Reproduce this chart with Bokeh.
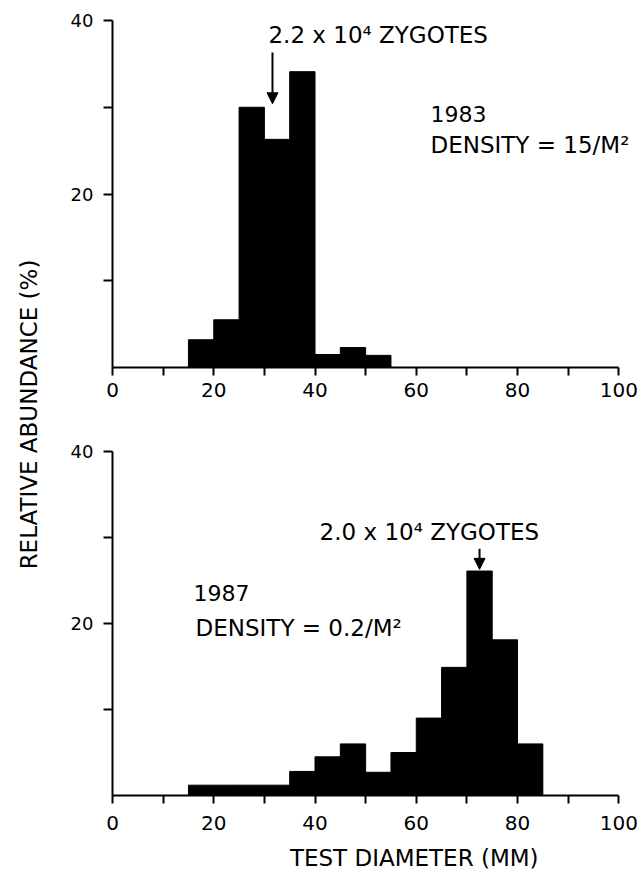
import math
from bokeh.plotting import figure
from bokeh.models import (Range1d, FixedTicker, Label, Arrow, NormalHead)
from bokeh.layouts import row, column
from bokeh.embed import file_html
from bokeh.resources import INLINE

# ---------------- data ----------------
bin_width = 5
bins_1983 = [15, 20, 25, 30, 35, 40, 45, 50]
abund_1983 = [3.2, 5.5, 30.0, 26.3, 34.1, 1.5, 2.3, 1.4]

bins_1987 = [15, 20, 25, 30, 35, 40, 45, 50, 55, 60, 65, 70, 75, 80]
abund_1987 = [1.2, 1.2, 1.2, 1.2, 2.8, 4.5, 6.0, 2.7, 5.0, 9.0, 14.9, 26.1, 18.1, 6.0]

x_major_ticks = [0, 20, 40, 60, 80, 100]
x_minor_ticks = [10, 30, 50, 70, 90]
y_major_ticks = [20, 40]
y_minor_ticks = [10, 30]

FONT = "DejaVu Sans"
MAIN_W = 596
X_END = 103.5   # frame extends a bit past 100 so right-hand texts fit


def make_panel(height, top, bottom, bins, vals, x_standoff):
    p = figure(width=MAIN_W, height=height, output_backend="svg",
               toolbar_location=None,
               x_range=Range1d(0, X_END), y_range=Range1d(0, 40),
               min_border_left=64, min_border_right=8,
               min_border_top=top, min_border_bottom=bottom)
    p.outline_line_color = None
    p.grid.visible = False
    p.background_fill_color = "white"
    p.border_fill_color = "white"

    p.quad(left=bins, right=[b + bin_width for b in bins], bottom=0, top=vals,
           fill_color="black", line_color="black", line_width=1)

    xa = p.xaxis[0]
    xa.bounds = (0, 100)
    xa.ticker = FixedTicker(ticks=x_major_ticks, minor_ticks=x_minor_ticks)
    xa.axis_line_width = 2
    xa.major_tick_line_width = 2
    xa.minor_tick_line_width = 2
    xa.major_tick_in = 0
    xa.major_tick_out = 8
    xa.minor_tick_in = 0
    xa.minor_tick_out = 8
    xa.major_label_text_font = FONT
    xa.major_label_text_font_size = "20px"
    xa.major_label_text_color = "black"
    xa.major_label_standoff = x_standoff

    ya = p.yaxis[0]
    ya.ticker = FixedTicker(ticks=y_major_ticks, minor_ticks=y_minor_ticks)
    ya.axis_line_width = 2
    ya.major_tick_line_width = 2
    ya.minor_tick_line_width = 2
    ya.major_tick_in = 0
    ya.major_tick_out = 9
    ya.minor_tick_in = 0
    ya.minor_tick_out = 9
    ya.major_label_text_font = FONT
    ya.major_label_text_font_size = "18px"
    ya.major_label_text_color = "black"
    ya.major_label_standoff = 10
    ya.major_label_orientation = "horizontal"
    return p


def add_label(p, x, y, text, size="22px"):
    p.add_layout(Label(x=x, y=y, text=text, text_font=FONT, text_font_size=size,
                       text_color="black", text_align="left",
                       text_baseline="middle"))


# ---------------- top panel (1983) ----------------
p1 = make_panel(420, 20, 53, bins_1983, abund_1983, 7)
add_label(p1, 30.8, 38.3, "2.2 x 10\u2074 ZYGOTES", "23px")
add_label(p1, 62.8, 29.2, "1983")
add_label(p1, 62.8, 25.6, "DENSITY = 15/M\u00b2", "23px")
p1.add_layout(Arrow(end=NormalHead(size=11, fill_color="black", line_color="black"),
                    x_start=31.6, y_start=36.3, x_end=31.6, y_end=30.4,
                    line_width=2, line_color="black"))

# ---------------- bottom panel (1987) ----------------
p2 = make_panel(416, 31, 41, bins_1987, abund_1987, 12)
add_label(p2, 40.9, 30.6, "2.0 x 10\u2074 ZYGOTES", "23px")
add_label(p2, 16.0, 23.6, "1987")
add_label(p2, 16.4, 19.5, "DENSITY = 0.2/M\u00b2", "23px")
p2.add_layout(Arrow(end=NormalHead(size=11, fill_color="black", line_color="black"),
                    x_start=72.5, y_start=28.7, x_end=72.5, y_end=26.3,
                    line_width=2, line_color="black"))

# ---------------- x-axis title strip ----------------
pt = figure(width=MAIN_W, height=36, output_backend="svg", toolbar_location=None,
            x_range=Range1d(0, X_END), y_range=Range1d(0, 1),
            min_border_left=64, min_border_right=8,
            min_border_top=0, min_border_bottom=0)
pt.axis.visible = False
pt.grid.visible = False
pt.outline_line_color = None
pt.add_layout(Label(x=59.6, y=(36 - 21) / 36, text="TEST DIAMETER (MM)",
                    text_font=FONT, text_font_size="23px", text_color="black",
                    text_align="center", text_baseline="middle"))

# ---------------- shared y-axis title ----------------
pl = figure(width=48, height=872, output_backend="svg", toolbar_location=None,
            x_range=Range1d(0, 1), y_range=Range1d(0, 1),
            min_border_left=0, min_border_right=0,
            min_border_top=0, min_border_bottom=0)
pl.axis.visible = False
pl.grid.visible = False
pl.outline_line_color = None
pl.add_layout(Label(x=28 / 48, y=1 - 414 / 872,
                    text="RELATIVE ABUNDANCE (%)", text_font=FONT,
                    text_font_size="23px", text_color="black",
                    angle=math.pi / 2, text_align="center",
                    text_baseline="middle"))

layout = row(pl, column(p1, p2, pt))

open("out.html", "w").write(file_html(layout, INLINE))
